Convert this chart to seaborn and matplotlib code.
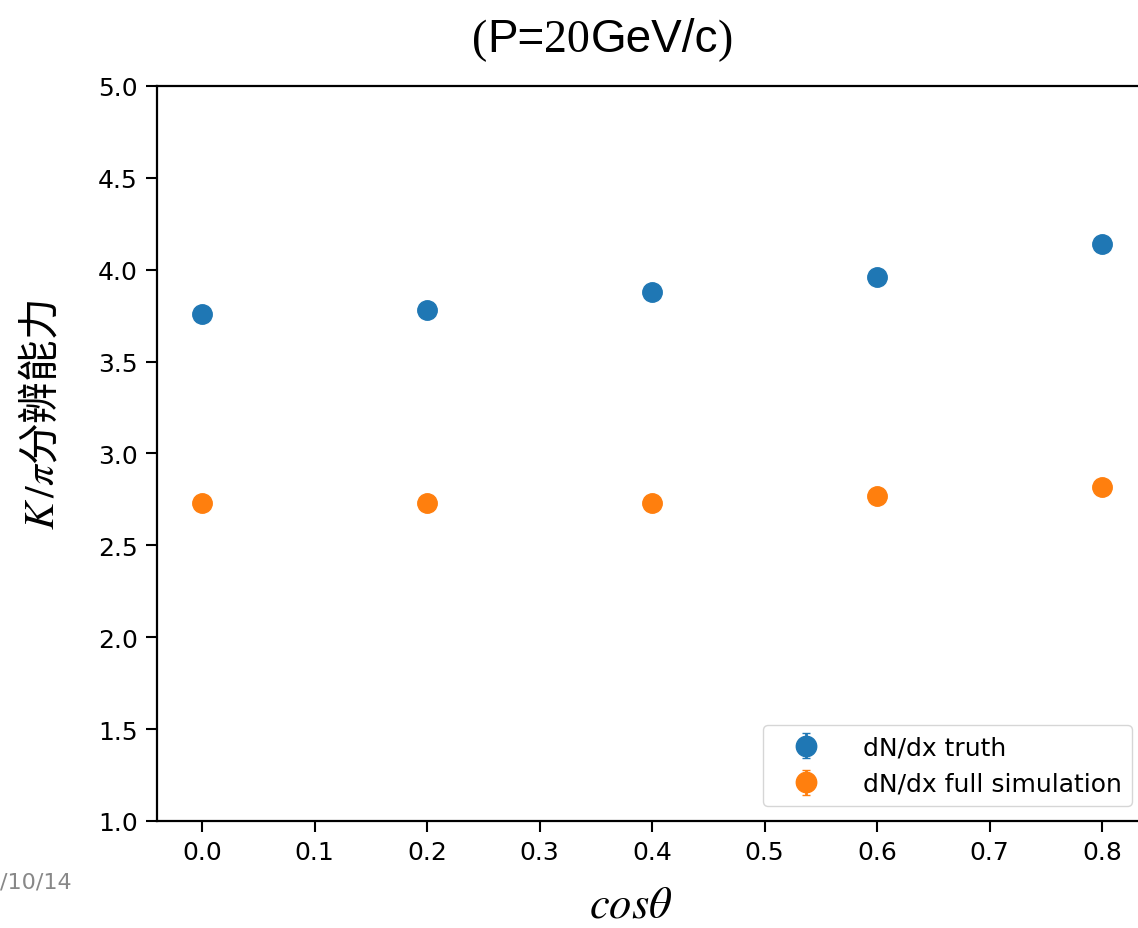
import numpy as np
import matplotlib
matplotlib.use("Agg")
import matplotlib.pyplot as plt
import seaborn as sns

# dados
cos_theta = [0.0, 0.2, 0.4, 0.6, 0.8]
truth = [3.76, 3.78, 3.88, 3.96, 4.14]
full_sim = [2.73, 2.73, 2.73, 2.77, 2.82]
err_truth = [0.01, 0.01, 0.01, 0.01, 0.01]
err_full = [0.01, 0.01, 0.01, 0.01, 0.01]
labels = ["dN/dx truth", "dN/dx full simulation"]

sns.set_style("ticks")
plt.rcParams['font.family'] = ['DejaVu Sans']
plt.rcParams['mathtext.fontset'] = 'stix'
plt.rcParams['text.color'] = 'black'
plt.rcParams['axes.labelcolor'] = 'black'
cores = sns.color_palette("tab10")

fig = plt.figure(figsize=(11.38, 9.29), dpi=100)
ax = fig.add_axes([0.138, 0.1152, 0.870, 0.7912])

ax.errorbar(cos_theta, truth, yerr=err_truth, fmt='o', ms=14, color=cores[0],
            capsize=3, elinewidth=2, label=labels[0])
ax.errorbar(cos_theta, full_sim, yerr=err_full, fmt='o', ms=14, color=cores[1],
            capsize=3, elinewidth=2, label=labels[1])

ax.set_ylim(1.0, 5.0)
ax.set_xlim(-0.04, 0.84)
ax.set_xticks(np.arange(0, 0.81, 0.1))
ax.set_yticks(np.arange(1.0, 5.01, 0.5))
ax.tick_params(labelsize=18, length=8, width=1.5, color='black', labelcolor='black', pad=6)
for s in ax.spines.values():
    s.set_color('black')
    s.set_linewidth(1.6)

ax.set_xlabel(r"$cos\theta$", fontsize=32, va='top')
ax.xaxis.set_label_coords(0.478, -0.084)
ax.set_ylabel(r"$K\,/\pi$分辨能力", fontsize=30, va='center',
              family=['Noto Sans CJK SC', 'DejaVu Sans'])
ax.yaxis.set_label_coords(-0.116, 0.554)

leg = ax.legend(loc='lower right', fontsize=18, frameon=True, borderaxespad=0.6,
                markerscale=1.05, handlelength=2.6, handletextpad=1.0)
leg.get_frame().set_edgecolor('#cccccc')

# título com fontes misturadas
partes = [("(", 'Liberation Serif'), ("P=", 'Liberation Sans'), ("20", 'Liberation Serif'),
          ("GeV/c", 'Liberation Sans'), (")", 'Liberation Serif')]
prev = fig.text(472 / 1138, 1 - 52 / 929, partes[0][0], fontsize=33, family=partes[0][1],
                ha='left', va='baseline', color='black')
for texto, fam in partes[1:]:
    prev = ax.annotate(texto, xy=(1, 0), xycoords=prev, fontsize=33, family=fam,
                       ha='left', va='bottom', annotation_clip=False, color='black')

fig.text(0.0, 1 - 882 / 929, "/10/14", fontsize=16, color='#888888', ha='left', va='center')

plt.savefig("out.png", dpi=100)
